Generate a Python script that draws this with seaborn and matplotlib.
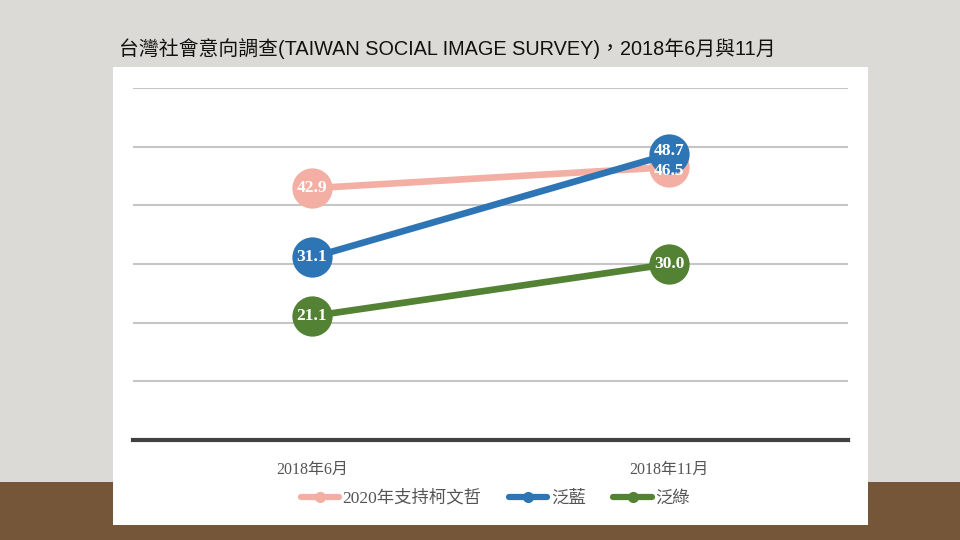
import matplotlib
matplotlib.use("Agg")
import matplotlib.pyplot as plt
import matplotlib.patches as mpatches
import seaborn as sns
import pandas as pd

# 資料
months = ["2018年6月", "2018年11月"]
ko_support = [42.9, 46.5]
pan_blue = [31.1, 48.7]
pan_green = [21.1, 30.0]
series_names = ["2020年支持柯文哲", "泛藍", "泛綠"]
colors = ["#F4AFA4", "#2E75B6", "#548235"]

df = pd.DataFrame({
    "month": months * 3,
    "value": ko_support + pan_blue + pan_green,
    "series": [series_names[0]] * 2 + [series_names[1]] * 2 + [series_names[2]] * 2,
})
df["x"] = [0, 1] * 3

sns.set_theme(style="white")
plt.rcParams["font.family"] = ["Liberation Serif", "Noto Sans CJK TC", "DejaVu Sans"]

fig = plt.figure(figsize=(9.6, 5.4), dpi=100)
fig.patch.set_facecolor("#dcdad6")

# 背景 (地板 + 白色面板)
fig.patches.append(mpatches.Rectangle((0, 0), 1, 0.107, transform=fig.transFigure,
                                      facecolor="#755638", edgecolor="none", zorder=-3))
fig.patches.append(mpatches.Rectangle((0.1177, 0.0278), 0.786, 0.848, transform=fig.transFigure,
                                      facecolor="white", edgecolor="none", zorder=-2))

ax = fig.add_axes([0.1385, 0.1852, 0.745, 0.652])
ax.set_facecolor("none")

sns.lineplot(data=df, x="x", y="value", hue="series", palette=colors,
             linewidth=4.8, marker="o", markersize=29, markeredgewidth=0,
             ax=ax, legend=False, zorder=3)

for name, vals, c in zip(series_names, [ko_support, pan_blue, pan_green], colors):
    for i, v in enumerate(vals):
        dy = 0
        if name == series_names[0] and i == 1:
            dy = -0.6
        if name == series_names[1] and i == 1:
            dy = 0.6
        ax.text(i, v + dy, f"{v:.1f}", color="white", fontsize=12.5, fontweight="bold",
                family="Liberation Serif", ha="center", va="center", zorder=5)

ax.set_xlim(-0.5, 1.5)
ax.set_ylim(0, 60)
ax.set_yticks([10, 20, 30, 40, 50, 60])
ax.yaxis.grid(True, color="#c6c6c6", linewidth=1.5)
ax.set_axisbelow(True)
ax.tick_params(axis="y", left=False, labelleft=False)
ax.set_xticks([0, 1])
ax.set_xticklabels(months, fontsize=11.5, color="#555555")
ax.tick_params(axis="x", bottom=False, pad=10)
for s in ["top", "left", "right"]:
    ax.spines[s].set_visible(False)
ax.spines["bottom"].set_color("#404040")
ax.spines["bottom"].set_linewidth(3)
ax.set_xlabel("")
ax.set_ylabel("")

handles = [plt.Line2D([0], [0], color=c, lw=4.5, marker="o", markersize=7) for c in colors]
fig.legend(handles, series_names, loc="center", bbox_to_anchor=(0.516, 0.077),
           ncol=3, frameon=False, fontsize=12.5, handlelength=2.2, columnspacing=1.6,
           handletextpad=0.2, labelcolor="#555555")

fig.text(0.124, 0.898, "台灣社會意向調查(TAIWAN SOCIAL IMAGE SURVEY)，2018年6月與11月",
         fontsize=14.3, color="#111111", family=["Liberation Sans", "Noto Sans CJK TC"])

fig.savefig("out.png", dpi=100, facecolor=fig.get_facecolor())
